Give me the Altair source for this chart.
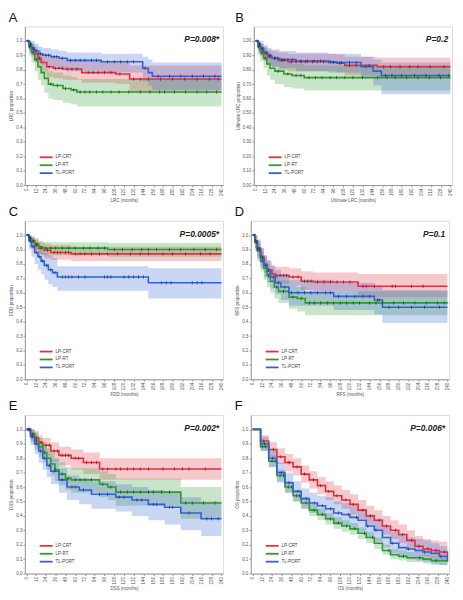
import altair as alt
import pandas as pd

GROUPS = ["LP-CRT", "LP-RT", "TL-PORT"]
COLORS = ["#e0303c", "#2e9a2e", "#2f62d6"]
XTICKS = list(range(0, 241, 12))
YTICKS = [0.0, 0.1, 0.2, 0.3, 0.4, 0.5, 0.6, 0.7, 0.8, 0.9, 1.0]

# ---------- Panel A: LRC ----------
A_CRT_T = [0, 3, 6, 10, 14, 18, 25, 33, 45, 68, 110, 127, 240]
A_CRT_S = [1.0, 0.97, 0.94, 0.91, 0.88, 0.85, 0.82, 0.81, 0.805, 0.78, 0.77, 0.735, 0.735]
A_CRT_LO = [1.0, 0.93, 0.89, 0.85, 0.81, 0.78, 0.75, 0.74, 0.73, 0.71, 0.70, 0.64, 0.64]
A_CRT_HI = [1.0, 1.0, 0.98, 0.96, 0.94, 0.91, 0.89, 0.88, 0.87, 0.86, 0.85, 0.83, 0.83]
A_CRT_C = [5, 9, 16, 28, 36, 40, 44, 50, 56, 62, 76, 82, 88, 96, 104, 115, 132, 140, 150, 165, 180, 195, 210, 225, 236]
A_RT_T = [0, 3, 6, 10, 14, 18, 22, 27, 33, 45, 55, 62, 240]
A_RT_S = [1.0, 0.96, 0.92, 0.87, 0.82, 0.78, 0.74, 0.70, 0.69, 0.67, 0.66, 0.645, 0.645]
A_RT_LO = [1.0, 0.90, 0.85, 0.79, 0.73, 0.69, 0.64, 0.60, 0.59, 0.57, 0.56, 0.545, 0.545]
A_RT_HI = [1.0, 1.0, 0.98, 0.94, 0.90, 0.87, 0.83, 0.79, 0.78, 0.76, 0.75, 0.735, 0.735]
A_RT_C = [4, 8, 12, 30, 38, 48, 58, 66, 72, 78, 86, 94, 104, 114, 126, 140, 152, 164, 170, 182, 196, 210, 222, 234]
A_TL_T = [0, 3, 6, 10, 15, 20, 30, 40, 50, 92, 143, 150, 155, 240]
A_TL_S = [1.0, 0.98, 0.95, 0.93, 0.91, 0.90, 0.89, 0.88, 0.865, 0.855, 0.81, 0.78, 0.755, 0.755]
A_TL_LO = [1.0, 0.94, 0.90, 0.87, 0.85, 0.83, 0.82, 0.81, 0.79, 0.78, 0.72, 0.69, 0.66, 0.66]
A_TL_HI = [1.0, 1.0, 1.0, 0.98, 0.96, 0.95, 0.94, 0.93, 0.92, 0.91, 0.89, 0.87, 0.85, 0.85]
A_TL_C = [2, 5, 8, 12, 17, 24, 27, 34, 37, 44, 54, 60, 66, 72, 80, 86, 100, 108, 116, 124, 132, 146, 162, 176, 190, 204, 218, 232]

# ---------- Panel B: Ultimate LRC ----------
B_CRT_T = [0, 3, 6, 10, 15, 20, 28, 40, 100, 110, 150, 240]
B_CRT_S = [1.0, 0.97, 0.94, 0.91, 0.89, 0.88, 0.865, 0.855, 0.845, 0.83, 0.82, 0.82]
B_CRT_LO = [1.0, 0.93, 0.89, 0.86, 0.83, 0.82, 0.80, 0.79, 0.78, 0.76, 0.745, 0.745]
B_CRT_HI = [1.0, 1.0, 0.98, 0.96, 0.94, 0.93, 0.92, 0.91, 0.905, 0.89, 0.885, 0.885]
B_CRT_C = [5, 9, 17, 24, 32, 36, 44, 50, 56, 62, 70, 76, 84, 92, 104, 116, 124, 140, 158, 166, 178, 190, 200, 215, 232]
B_RT_T = [0, 3, 6, 10, 14, 18, 24, 35, 45, 60, 240]
B_RT_S = [1.0, 0.96, 0.92, 0.88, 0.84, 0.81, 0.79, 0.77, 0.76, 0.745, 0.745]
B_RT_LO = [1.0, 0.90, 0.86, 0.81, 0.76, 0.73, 0.70, 0.68, 0.67, 0.655, 0.655]
B_RT_HI = [1.0, 1.0, 0.98, 0.95, 0.92, 0.89, 0.87, 0.85, 0.84, 0.83, 0.83]
B_RT_C = [4, 8, 12, 28, 40, 50, 56, 66, 74, 82, 92, 100, 110, 120, 132, 150, 162, 172, 186, 200, 214, 228]
B_TL_T = [0, 3, 6, 10, 15, 20, 30, 50, 90, 130, 145, 155, 240]
B_TL_S = [1.0, 0.98, 0.95, 0.92, 0.90, 0.88, 0.87, 0.86, 0.85, 0.82, 0.79, 0.76, 0.76]
B_TL_LO = [1.0, 0.94, 0.90, 0.87, 0.84, 0.82, 0.81, 0.79, 0.78, 0.74, 0.69, 0.63, 0.63]
B_TL_HI = [1.0, 1.0, 1.0, 0.97, 0.95, 0.94, 0.93, 0.92, 0.91, 0.89, 0.87, 0.85, 0.85]
B_TL_C = [2, 5, 8, 13, 18, 24, 27, 34, 40, 46, 56, 64, 72, 80, 96, 106, 116, 124, 136, 160, 168, 180, 196, 210, 226, 238]

# ---------- Panel C: FDD ----------
C_CRT_T = [0, 3, 6, 10, 15, 22, 30, 55, 240]
C_CRT_S = [1.0, 0.98, 0.96, 0.93, 0.91, 0.895, 0.88, 0.87, 0.87]
C_CRT_LO = [1.0, 0.95, 0.92, 0.89, 0.86, 0.84, 0.83, 0.82, 0.82]
C_CRT_HI = [1.0, 1.0, 0.99, 0.97, 0.95, 0.94, 0.93, 0.92, 0.92]
C_CRT_C = [5, 8, 12, 18, 26, 34, 38, 42, 48, 52, 60, 66, 72, 80, 90, 100, 112, 128, 140, 150, 168, 180, 196, 214, 226]
C_RT_T = [0, 3, 6, 10, 15, 20, 100, 240]
C_RT_S = [1.0, 0.98, 0.96, 0.94, 0.92, 0.91, 0.90, 0.90]
C_RT_LO = [1.0, 0.95, 0.92, 0.90, 0.87, 0.86, 0.85, 0.85]
C_RT_HI = [1.0, 1.0, 0.99, 0.98, 0.96, 0.95, 0.945, 0.945]
C_RT_C = [4, 9, 13, 24, 30, 36, 44, 52, 60, 70, 78, 88, 96, 108, 118, 130, 142, 150, 160, 176, 190, 206, 220, 234]
C_TL_T = [0, 3, 6, 10, 14, 18, 22, 27, 32, 38, 150, 240]
C_TL_S = [1.0, 0.96, 0.92, 0.88, 0.85, 0.82, 0.79, 0.76, 0.74, 0.71, 0.67, 0.67]
C_TL_LO = [1.0, 0.90, 0.85, 0.80, 0.76, 0.73, 0.69, 0.66, 0.64, 0.615, 0.56, 0.56]
C_TL_HI = [1.0, 1.0, 0.98, 0.95, 0.93, 0.90, 0.88, 0.86, 0.84, 0.785, 0.77, 0.77]
C_TL_C = [2, 5, 8, 12, 16, 20, 25, 30, 35, 44, 48, 52, 56, 64, 72, 96, 100, 104, 120, 126, 132, 138, 144, 166, 172, 178, 204, 210, 216]

# ---------- Panel D: RFS ----------
D_CRT_T = [0, 3, 6, 10, 14, 18, 24, 28, 45, 60, 75, 130, 240]
D_CRT_S = [1.0, 0.96, 0.91, 0.85, 0.80, 0.76, 0.73, 0.72, 0.71, 0.68, 0.675, 0.645, 0.645]
D_CRT_LO = [1.0, 0.91, 0.85, 0.79, 0.74, 0.70, 0.67, 0.66, 0.65, 0.62, 0.61, 0.57, 0.57]
D_CRT_HI = [1.0, 1.0, 0.97, 0.91, 0.86, 0.82, 0.79, 0.78, 0.77, 0.75, 0.74, 0.73, 0.73]
D_CRT_C = [4, 8, 12, 20, 30, 34, 38, 42, 50, 56, 64, 68, 72, 80, 88, 96, 104, 112, 120, 136, 140, 150, 172, 176, 196, 210]
D_RT_T = [0, 3, 6, 10, 14, 18, 22, 27, 32, 45, 55, 65, 240]
D_RT_S = [1.0, 0.95, 0.89, 0.82, 0.77, 0.72, 0.68, 0.64, 0.61, 0.57, 0.56, 0.53, 0.525]
D_RT_LO = [1.0, 0.89, 0.82, 0.75, 0.69, 0.64, 0.60, 0.56, 0.53, 0.49, 0.47, 0.445, 0.435]
D_RT_HI = [1.0, 1.0, 0.95, 0.89, 0.84, 0.80, 0.76, 0.72, 0.69, 0.65, 0.64, 0.61, 0.61]
D_RT_C = [5, 12, 20, 30, 38, 50, 60, 70, 76, 84, 92, 100, 108, 116, 124, 132, 144, 152, 160, 174, 186, 200, 214, 228, 236]
D_TL_T = [0, 3, 6, 10, 14, 18, 22, 28, 35, 45, 100, 150, 160, 240]
D_TL_S = [1.0, 0.96, 0.90, 0.84, 0.79, 0.75, 0.71, 0.67, 0.64, 0.60, 0.575, 0.55, 0.50, 0.50]
D_TL_LO = [1.0, 0.91, 0.84, 0.77, 0.71, 0.67, 0.63, 0.59, 0.55, 0.51, 0.48, 0.45, 0.39, 0.39]
D_TL_HI = [1.0, 1.0, 0.96, 0.91, 0.86, 0.83, 0.79, 0.76, 0.73, 0.69, 0.67, 0.65, 0.62, 0.62]
D_TL_C = [2, 6, 9, 16, 26, 32, 40, 48, 56, 64, 72, 80, 90, 96, 106, 116, 126, 136, 144, 154, 156, 168, 180, 196, 212, 230]

# ---------- Panel E: DSS ----------
E_CRT_T = [0, 5, 10, 15, 20, 30, 40, 55, 70, 90, 240]
E_CRT_S = [1.0, 0.97, 0.94, 0.91, 0.89, 0.85, 0.82, 0.80, 0.77, 0.725, 0.725]
E_CRT_LO = [1.0, 0.93, 0.89, 0.85, 0.82, 0.78, 0.75, 0.72, 0.69, 0.65, 0.65]
E_CRT_HI = [1.0, 1.0, 0.99, 0.96, 0.94, 0.91, 0.88, 0.86, 0.84, 0.80, 0.80]
E_CRT_C = [3, 8, 12, 18, 24, 28, 34, 38, 44, 48, 52, 60, 64, 74, 80, 86, 94, 100, 110, 116, 124, 132, 140, 150, 168, 182, 192, 200, 220]
E_RT_T = [0, 5, 10, 15, 20, 25, 30, 35, 40, 48, 55, 90, 100, 110, 190, 240]
E_RT_S = [1.0, 0.96, 0.92, 0.88, 0.84, 0.80, 0.76, 0.72, 0.69, 0.66, 0.65, 0.62, 0.60, 0.565, 0.49, 0.49]
E_RT_LO = [1.0, 0.91, 0.86, 0.81, 0.77, 0.72, 0.68, 0.64, 0.61, 0.58, 0.56, 0.53, 0.51, 0.47, 0.38, 0.38]
E_RT_HI = [1.0, 1.0, 0.98, 0.94, 0.91, 0.87, 0.84, 0.80, 0.77, 0.74, 0.73, 0.71, 0.69, 0.66, 0.60, 0.60]
E_RT_C = [4, 12, 22, 36, 44, 52, 60, 66, 72, 80, 94, 104, 116, 124, 132, 140, 150, 156, 166, 176, 196, 204, 218, 232]
E_TL_T = [0, 5, 10, 15, 20, 25, 30, 40, 50, 65, 80, 110, 130, 150, 170, 190, 215, 240]
E_TL_S = [1.0, 0.95, 0.90, 0.85, 0.80, 0.75, 0.71, 0.65, 0.60, 0.58, 0.55, 0.53, 0.51, 0.48, 0.46, 0.42, 0.38, 0.38]
E_TL_LO = [1.0, 0.89, 0.83, 0.77, 0.72, 0.67, 0.62, 0.56, 0.51, 0.48, 0.45, 0.43, 0.40, 0.37, 0.34, 0.30, 0.26, 0.26]
E_TL_HI = [1.0, 1.0, 0.96, 0.92, 0.88, 0.83, 0.79, 0.73, 0.68, 0.66, 0.64, 0.62, 0.60, 0.58, 0.56, 0.53, 0.50, 0.50]
E_TL_C = [2, 7, 12, 17, 22, 28, 34, 44, 56, 60, 70, 90, 100, 114, 120, 136, 142, 156, 160, 176, 180, 200, 222, 228, 236]

# ---------- Panel F: OS ----------
F_T = [0, 10, 20, 30, 40, 50, 60, 70, 80, 90, 100, 110, 120, 130, 140, 150, 160, 170, 180, 190, 200, 210, 220, 230, 240]
F_CRT_S = [1.0, 0.92, 0.86, 0.81, 0.77, 0.74, 0.69, 0.65, 0.61, 0.57, 0.54, 0.51, 0.48, 0.44, 0.40, 0.37, 0.33, 0.30, 0.27, 0.23, 0.19, 0.17, 0.16, 0.15, 0.12]
F_CRT_LO = [1.0, 0.88, 0.81, 0.76, 0.71, 0.68, 0.63, 0.59, 0.55, 0.51, 0.48, 0.45, 0.41, 0.38, 0.34, 0.30, 0.27, 0.24, 0.21, 0.17, 0.14, 0.12, 0.11, 0.10, 0.08]
F_CRT_HI = [1.0, 0.96, 0.91, 0.87, 0.83, 0.80, 0.75, 0.71, 0.67, 0.64, 0.61, 0.58, 0.55, 0.51, 0.47, 0.44, 0.40, 0.37, 0.34, 0.30, 0.26, 0.24, 0.23, 0.22, 0.19]
F_CRT_C = [14, 26, 35, 44, 46, 55, 64, 75, 84, 94, 104, 115, 124, 136, 145, 156, 165, 176, 185, 196, 205, 216, 226, 236]
F_RT_S = [1.0, 0.88, 0.78, 0.68, 0.60, 0.54, 0.49, 0.44, 0.41, 0.38, 0.35, 0.33, 0.31, 0.28, 0.25, 0.21, 0.16, 0.13, 0.12, 0.11, 0.11, 0.10, 0.09, 0.09, 0.08]
F_RT_LO = [1.0, 0.85, 0.74, 0.64, 0.56, 0.50, 0.45, 0.40, 0.37, 0.34, 0.31, 0.29, 0.27, 0.24, 0.21, 0.17, 0.13, 0.10, 0.09, 0.08, 0.08, 0.07, 0.06, 0.06, 0.05]
F_RT_HI = [1.0, 0.91, 0.82, 0.72, 0.64, 0.58, 0.53, 0.48, 0.45, 0.42, 0.39, 0.37, 0.35, 0.32, 0.29, 0.25, 0.20, 0.17, 0.16, 0.15, 0.14, 0.13, 0.12, 0.12, 0.11]
F_RT_C = [12, 16, 24, 28, 34, 38, 44, 48, 54, 58, 66, 76, 86, 96, 106, 116, 126, 138, 148, 168, 186, 206, 226]
F_TL_S = [1.0, 0.90, 0.80, 0.70, 0.63, 0.57, 0.52, 0.49, 0.47, 0.45, 0.42, 0.41, 0.39, 0.37, 0.33, 0.30, 0.25, 0.21, 0.18, 0.17, 0.16, 0.15, 0.14, 0.12, 0.09]
F_TL_LO = [1.0, 0.85, 0.74, 0.63, 0.56, 0.50, 0.45, 0.42, 0.40, 0.37, 0.34, 0.33, 0.31, 0.29, 0.25, 0.22, 0.18, 0.14, 0.11, 0.10, 0.09, 0.08, 0.07, 0.06, 0.04]
F_TL_HI = [1.0, 0.95, 0.86, 0.77, 0.70, 0.64, 0.59, 0.56, 0.54, 0.53, 0.50, 0.49, 0.47, 0.45, 0.41, 0.38, 0.33, 0.29, 0.26, 0.25, 0.24, 0.23, 0.21, 0.19, 0.15]
F_TL_C = [15, 25, 36, 45, 56, 66, 76, 86, 96, 106, 118, 128, 142, 152, 172, 192, 212, 232]

PANELS = [
    ("A", "P=0.008*", "LRC", ".1f", [(A_CRT_T, A_CRT_S, A_CRT_LO, A_CRT_HI, A_CRT_C), (A_RT_T, A_RT_S, A_RT_LO, A_RT_HI, A_RT_C), (A_TL_T, A_TL_S, A_TL_LO, A_TL_HI, A_TL_C)]),
    ("B", "P=0.2", "Ultimate LRC", ".2f", [(B_CRT_T, B_CRT_S, B_CRT_LO, B_CRT_HI, B_CRT_C), (B_RT_T, B_RT_S, B_RT_LO, B_RT_HI, B_RT_C), (B_TL_T, B_TL_S, B_TL_LO, B_TL_HI, B_TL_C)]),
    ("C", "P=0.0005*", "FDD", ".1f", [(C_CRT_T, C_CRT_S, C_CRT_LO, C_CRT_HI, C_CRT_C), (C_RT_T, C_RT_S, C_RT_LO, C_RT_HI, C_RT_C), (C_TL_T, C_TL_S, C_TL_LO, C_TL_HI, C_TL_C)]),
    ("D", "P=0.1", "RFS", ".1f", [(D_CRT_T, D_CRT_S, D_CRT_LO, D_CRT_HI, D_CRT_C), (D_RT_T, D_RT_S, D_RT_LO, D_RT_HI, D_RT_C), (D_TL_T, D_TL_S, D_TL_LO, D_TL_HI, D_TL_C)]),
    ("E", "P=0.002*", "DSS", ".1f", [(E_CRT_T, E_CRT_S, E_CRT_LO, E_CRT_HI, E_CRT_C), (E_RT_T, E_RT_S, E_RT_LO, E_RT_HI, E_RT_C), (E_TL_T, E_TL_S, E_TL_LO, E_TL_HI, E_TL_C)]),
    ("F", "P=0.006*", "OS", ".1f", [(F_T, F_CRT_S, F_CRT_LO, F_CRT_HI, F_CRT_C), (F_T, F_RT_S, F_RT_LO, F_RT_HI, F_RT_C), (F_T, F_TL_S, F_TL_LO, F_TL_HI, F_TL_C)]),
]

W, H = 200, 160
FONT = "Liberation Sans"


def step_value(t, s, c):
    v = s[0]
    for ti, si in zip(t, s):
        if ti <= c:
            v = si
    return v


def make_panel(letter, pval, name, yfmt, series):
    rows, cens = [], []
    for g, (t, s, lo, hi, cs) in zip(GROUPS, series):
        for ti, si, li, hii in zip(t, s, lo, hi):
            rows.append({"t": ti, "s": si, "lo": li, "hi": hii, "group": g})
        for c in cs:
            cens.append({"t": c, "s": step_value(t, s, c), "group": g})
    df = pd.DataFrame(rows)
    cdf = pd.DataFrame(cens)
    xscale = alt.Scale(domain=[-2, 242], nice=False)
    yscale = alt.Scale(domain=[0, 1.1], nice=False)
    cscale = alt.Scale(domain=GROUPS, range=COLORS)
    xaxis = alt.Axis(values=XTICKS, title=f"{name} (months)", labelAngle=270,
                     labelAlign="right", labelBaseline="middle", labelOverlap=False)
    yaxis = alt.Axis(values=YTICKS, format=yfmt, title=f"{name} proportion",
                     labelOverlap=False)
    band = alt.Chart(df).mark_area(interpolate="step-after", opacity=0.26).encode(
        x=alt.X("t:Q", scale=xscale, axis=xaxis),
        y=alt.Y("lo:Q", scale=yscale, axis=yaxis),
        y2="hi:Q",
        fill=alt.Fill("group:N", scale=cscale, legend=None),
    )
    line = alt.Chart(df).mark_line(interpolate="step-after", strokeWidth=1.6).encode(
        x=alt.X("t:Q", scale=xscale, axis=xaxis),
        y=alt.Y("s:Q", scale=yscale, axis=yaxis),
        color=alt.Color("group:N", scale=cscale, legend=None),
    )
    ticks = alt.Chart(cdf).mark_tick(orient="vertical", size=3.5, thickness=0.7,
                                     color="#222", opacity=0.8).encode(
        x=alt.X("t:Q", scale=xscale, axis=xaxis),
        y=alt.Y("s:Q", scale=yscale, axis=yaxis),
    )
    layers = [band, line, ticks]
    # manual in-plot legend (bottom-left)
    for i, (g, col) in enumerate(zip(GROUPS, COLORS)):
        ly = H - 28 + 8 * i
        ldf = pd.DataFrame({"label": [g]})
        layers.append(alt.Chart(ldf).mark_rule(color=col, strokeWidth=1.8).encode(
            x=alt.value(15), x2=alt.value(28), y=alt.value(ly)))
        layers.append(alt.Chart(ldf).mark_text(
            align="left", baseline="middle", fontSize=4.5, font=FONT, color="#444").encode(
            text="label:N", x=alt.value(31), y=alt.value(ly)))
    ptext = alt.Chart(pd.DataFrame({"p": [pval]})).mark_text(
        align="right", baseline="middle", fontSize=8.5, fontWeight="bold",
        fontStyle="italic", font=FONT, color="#222").encode(
        text="p:N", x=alt.value(W - 4), y=alt.value(13))
    layers.append(ptext)
    return alt.layer(*layers).properties(
        width=W, height=H,
        title=alt.TitleParams(letter, anchor="start", frame="bounds", fontSize=13,
                              fontWeight="normal", font=FONT, offset=2, color="#111"))


charts = [make_panel(*p) for p in PANELS]
rows = [alt.hconcat(charts[i], charts[i + 1], spacing=8) for i in range(0, 6, 2)]
chart = alt.vconcat(*rows, spacing=2)
chart = chart.configure(padding=0).configure_axis(
    labelFontSize=4.5, titleFontSize=4.5, labelFont=FONT, titleFont=FONT,
    labelColor="#555", titleColor="#555", titleFontWeight="normal",
    grid=False, tickSize=2, tickColor="#999", domainColor="#999",
    labelPadding=1, titlePadding=2,
).configure_view(stroke="#ddd")

chart.save("out.html", embed_options={"renderer": "svg", "actions": False})
